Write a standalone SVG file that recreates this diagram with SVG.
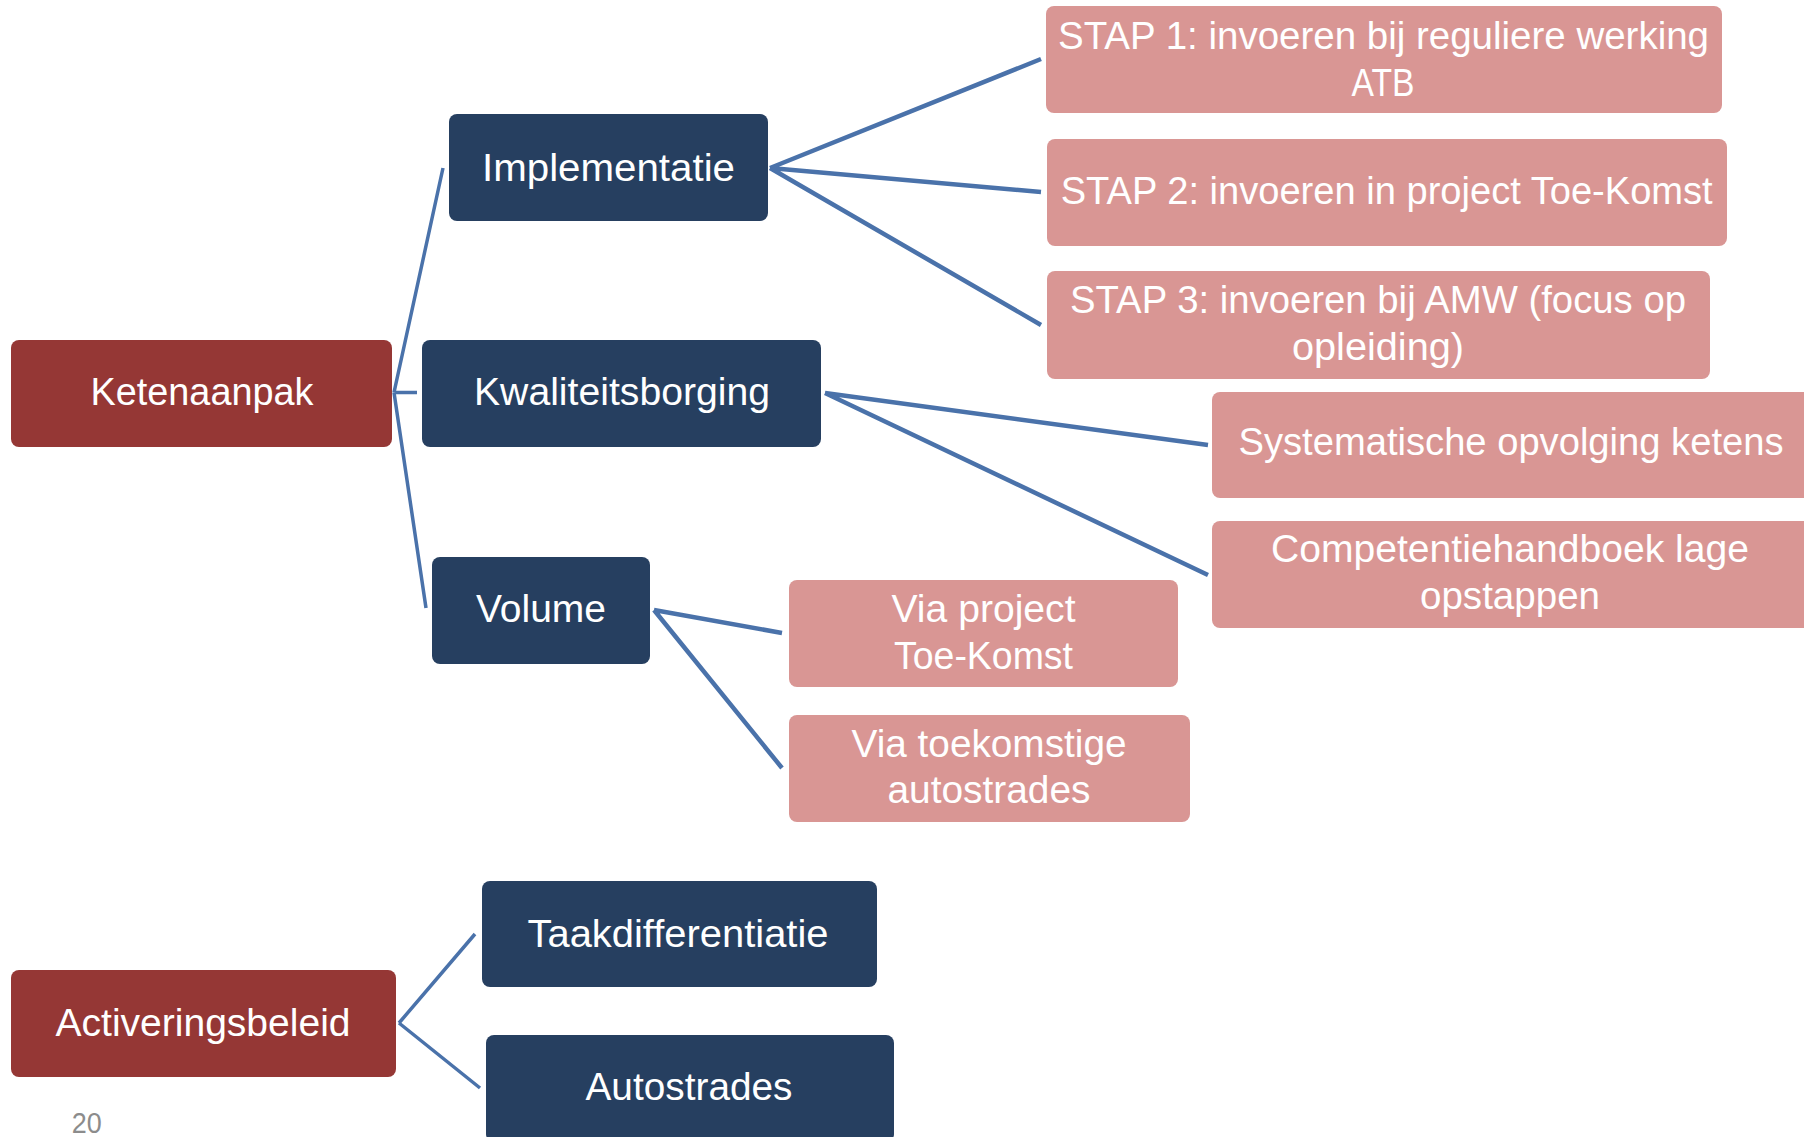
<svg xmlns="http://www.w3.org/2000/svg" width="1804" height="1137" viewBox="0 0 1804 1137">
<style>
.red{fill:#953735}
.navy{fill:#263F60}
.pink{fill:#D99694}
.t{font-family:"Liberation Sans",Arial,sans-serif;font-size:38px;fill:#FFFFFF;text-anchor:middle}
.ln{fill:none;stroke:#4A72AA;stroke-linecap:butt}
.thin{stroke-width:3.5}
.thick{stroke-width:4.5}
.pg{font-family:"Liberation Sans",Arial,sans-serif;font-size:29px;fill:#8C8C8C;text-anchor:middle}
</style>
<rect width="1804" height="1137" fill="#FFFFFF"/>
<g id="connectors">
<path class="ln thin" d="M394,392.5 L443,168 M394,392.5 L417,392.5 M394,392.5 L426,608"/>
<path class="ln thick" d="M770,168 L1041,59 M770,168 L1041,192 M770,168 L1041,325"/>
<path class="ln thick" d="M825,393 L1208,445 M825,393 L1208,575"/>
<path class="ln thick" d="M654,610 L782,633 M654,610 L782,768"/>
<path class="ln thin" d="M399,1023 L475,934 M399,1023 L480,1088"/>
</g>
<g id="ketenaanpak">
<rect class="red" x="11" y="340" width="381" height="107" rx="8"/>
<text class="t" x="202" y="405" textLength="223" lengthAdjust="spacingAndGlyphs">Ketenaanpak</text>
</g>
<g id="implementatie">
<rect class="navy" x="449" y="114" width="319" height="107" rx="8"/>
<text class="t" x="608.5" y="181" textLength="253" lengthAdjust="spacingAndGlyphs">Implementatie</text>
</g>
<g id="kwaliteitsborging">
<rect class="navy" x="422" y="340" width="399" height="107" rx="8"/>
<text class="t" x="622" y="405" textLength="296" lengthAdjust="spacingAndGlyphs">Kwaliteitsborging</text>
</g>
<g id="volume">
<rect class="navy" x="432" y="557" width="218" height="107" rx="8"/>
<text class="t" x="541" y="622" textLength="130" lengthAdjust="spacingAndGlyphs">Volume</text>
</g>
<g id="stap1">
<rect class="pink" x="1046" y="6" width="676" height="107" rx="8"/>
<text class="t" x="1383.5" y="49" textLength="651" lengthAdjust="spacingAndGlyphs">STAP 1: invoeren bij reguliere werking</text>
<text class="t" x="1383" y="96" textLength="63" lengthAdjust="spacingAndGlyphs">ATB</text>
</g>
<g id="stap2">
<rect class="pink" x="1047" y="139" width="680" height="107" rx="8"/>
<text class="t" x="1386.7" y="204" textLength="652" lengthAdjust="spacingAndGlyphs">STAP 2: invoeren in project Toe-Komst</text>
</g>
<g id="stap3">
<rect class="pink" x="1047" y="271" width="663" height="108" rx="8"/>
<text class="t" x="1378" y="313" textLength="616" lengthAdjust="spacingAndGlyphs">STAP 3: invoeren bij AMW (focus op</text>
<text class="t" x="1378" y="360" textLength="172" lengthAdjust="spacingAndGlyphs">opleiding)</text>
</g>
<g id="systematische">
<rect class="pink" x="1212" y="392" width="600" height="106" rx="8"/>
<text class="t" x="1511" y="455" textLength="545" lengthAdjust="spacingAndGlyphs">Systematische opvolging ketens</text>
</g>
<g id="competentiehandboek">
<rect class="pink" x="1212" y="521" width="600" height="107" rx="8"/>
<text class="t" x="1510" y="562" textLength="478" lengthAdjust="spacingAndGlyphs">Competentiehandboek lage</text>
<text class="t" x="1510" y="609" textLength="180" lengthAdjust="spacingAndGlyphs">opstappen</text>
</g>
<g id="via-project">
<rect class="pink" x="789" y="580" width="389" height="107" rx="8"/>
<text class="t" x="983.5" y="622" textLength="184" lengthAdjust="spacingAndGlyphs">Via project</text>
<text class="t" x="983.5" y="669" textLength="179" lengthAdjust="spacingAndGlyphs">Toe-Komst</text>
</g>
<g id="via-toekomstige">
<rect class="pink" x="789" y="715" width="401" height="107" rx="8"/>
<text class="t" x="989" y="757" textLength="275" lengthAdjust="spacingAndGlyphs">Via toekomstige</text>
<text class="t" x="989" y="803" textLength="203" lengthAdjust="spacingAndGlyphs">autostrades</text>
</g>
<g id="activeringsbeleid">
<rect class="red" x="11" y="970" width="385" height="107" rx="8"/>
<text class="t" x="203" y="1036" textLength="295" lengthAdjust="spacingAndGlyphs">Activeringsbeleid</text>
</g>
<g id="taakdifferentiatie">
<rect class="navy" x="482" y="881" width="395" height="106" rx="8"/>
<text class="t" x="678" y="947" textLength="301" lengthAdjust="spacingAndGlyphs">Taakdifferentiatie</text>
</g>
<g id="autostrades">
<rect class="navy" x="486" y="1035" width="408" height="107" rx="8"/>
<text class="t" x="689" y="1100" textLength="207" lengthAdjust="spacingAndGlyphs">Autostrades</text>
</g>
<text class="pg" x="86.7" y="1133" textLength="30" lengthAdjust="spacingAndGlyphs">20</text>
</svg>
